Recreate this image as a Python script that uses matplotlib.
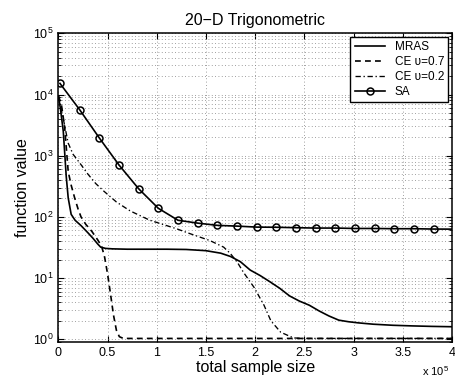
import matplotlib
matplotlib.use("Agg")
import matplotlib.pyplot as plt
from matplotlib.ticker import FixedLocator, LogLocator, NullFormatter

plt.rcParams["font.family"] = ["Liberation Sans", "DejaVu Sans"]
plt.rcParams["mathtext.fontset"] = "custom"
plt.rcParams["mathtext.rm"] = "Liberation Sans"
plt.rcParams["mathtext.it"] = "Liberation Sans:italic"
plt.rcParams["mathtext.bf"] = "Liberation Sans:bold"

# ── data (x in units of 1e5 samples) ─────────────────────────────────────────
mras_x = [0, 0.02, 0.05, 0.08, 0.1, 0.13, 0.17, 0.23, 0.3, 0.35, 0.4, 0.43,
          0.48, 0.55, 0.7, 0.9, 1.1, 1.3, 1.5, 1.65, 1.75, 1.85, 1.95, 2.05,
          2.15, 2.25, 2.35, 2.45, 2.55, 2.65, 2.75, 2.85, 2.95, 3.05, 3.2,
          3.4, 3.6, 3.8, 4.0]
mras_y = [9500, 6000, 2500, 456, 204, 110, 88, 72, 55, 45, 36, 32,
          30.5, 30, 29.6, 29.6, 29.6, 29.3, 28, 25.5, 22.5, 18.5, 13.5, 11,
          8.7, 6.8, 5.1, 4.2, 3.6, 2.9, 2.4, 2.05, 1.93, 1.85, 1.76,
          1.69, 1.65, 1.62, 1.6]

ce07_x = [0, 0.03, 0.064, 0.1, 0.13, 0.166, 0.2, 0.23, 0.28, 0.34, 0.4, 0.44,
          0.47, 0.5, 0.53, 0.56, 0.59, 0.62, 0.66, 4.0]
ce07_y = [9500, 7000, 2900, 550, 330, 203, 135, 100, 75, 58, 42, 33,
          22, 11.7, 5.5, 2.5, 1.4, 1.1, 1.03, 1.03]

ce02_x = [0, 0.05, 0.1, 0.15, 0.22, 0.3, 0.38, 0.46, 0.59, 0.73, 0.93, 1.2,
          1.34, 1.54, 1.68, 1.75, 1.82, 1.88, 1.99, 2.09, 2.16, 2.26, 2.39,
          2.5, 4.0]
ce02_y = [9500, 4000, 1600, 1050, 750, 500, 350, 265, 175, 125, 88, 64,
          53, 41, 32, 25, 18, 12.5, 7, 3.6, 2.0, 1.3, 1.05,
          1.03, 1.03]

sa_x = [0.016, 0.216, 0.416, 0.616, 0.816, 1.016, 1.216, 1.416, 1.616, 1.816,
        2.016, 2.216, 2.416, 2.616, 2.816, 3.016, 3.216, 3.416, 3.616, 3.816,
        4.0]
sa_y = [15200, 5650, 1950, 705, 288, 138, 88, 79, 72.6, 70.6,
        68, 67.6, 66.5, 65.6, 65.6, 64.6, 64.6, 64, 64, 63.2,
        63]

xticks = [0, 0.5, 1, 1.5, 2, 2.5, 3, 3.5, 4]
xticklabels = ["0", "0.5", "1", "1.5", "2", "2.5", "3", "3.5", "4"]

# ── figure ───────────────────────────────────────────────────────────────────
fig = plt.figure(figsize=(4.56, 3.83), dpi=100, facecolor="white")
ax = fig.add_axes([0.128, 0.107, 0.863, 0.806])

lw = 1.2
ax.plot(mras_x, mras_y, color="black", lw=lw, label="MRAS")
ax.plot(ce07_x, ce07_y, color="black", lw=lw, linestyle=(0, (3.5, 2.5)),
        label="CE \u03c5=0.7")
ax.plot(ce02_x, ce02_y, color="black", lw=lw * 0.8,
        linestyle=(0, (4, 2, 1, 2)), label="CE \u03c5=0.2")
ax.plot(sa_x, sa_y, color="black", lw=lw, marker="o", markersize=5,
        markerfacecolor="none", markeredgewidth=1.1,
        markevery=slice(0, 20), label="SA")

ax.set_yscale("log")
ax.set_xlim(0, 4)
ax.set_ylim(0.9, 1e5)
ax.xaxis.set_major_locator(FixedLocator(xticks))
ax.set_xticklabels(xticklabels)
ax.yaxis.set_major_locator(FixedLocator([1, 10, 100, 1e3, 1e4, 1e5]))
ax.yaxis.set_minor_locator(LogLocator(base=10, subs=range(2, 10), numticks=20))
ax.yaxis.set_minor_formatter(NullFormatter())

# MATLAB-style dotted grid
ax.grid(True, which="major", color="#808080", linestyle=(0, (1, 3)), lw=0.6)
ax.grid(True, which="minor", axis="y", color="#808080",
        linestyle=(0, (1, 3)), lw=0.6)
ax.tick_params(which="both", direction="in", top=True, right=True,
               labelsize=9, colors="black")
ax.tick_params(which="major", length=4)
ax.tick_params(which="minor", length=2)
for s in ax.spines.values():
    s.set_linewidth(1.1)

ax.set_title("20\u2212D Trigonometric", fontsize=11.5, pad=6)
ax.set_xlabel("total sample size", fontsize=11.5, labelpad=1)
ax.set_ylabel("function value", fontsize=11.5, labelpad=2)
fig.text(0.985, 0.03, r"x 10$^5$", ha="right", va="center", fontsize=8)

leg = ax.legend(loc="upper right", fontsize=8.5, fancybox=False,
                framealpha=1, edgecolor="black", borderaxespad=0.3,
                handlelength=2.6, labelspacing=0.25, borderpad=0.35)
leg.get_frame().set_linewidth(1.0)

plt.savefig("out.png", dpi=100, facecolor="white")
plt.close(fig)
